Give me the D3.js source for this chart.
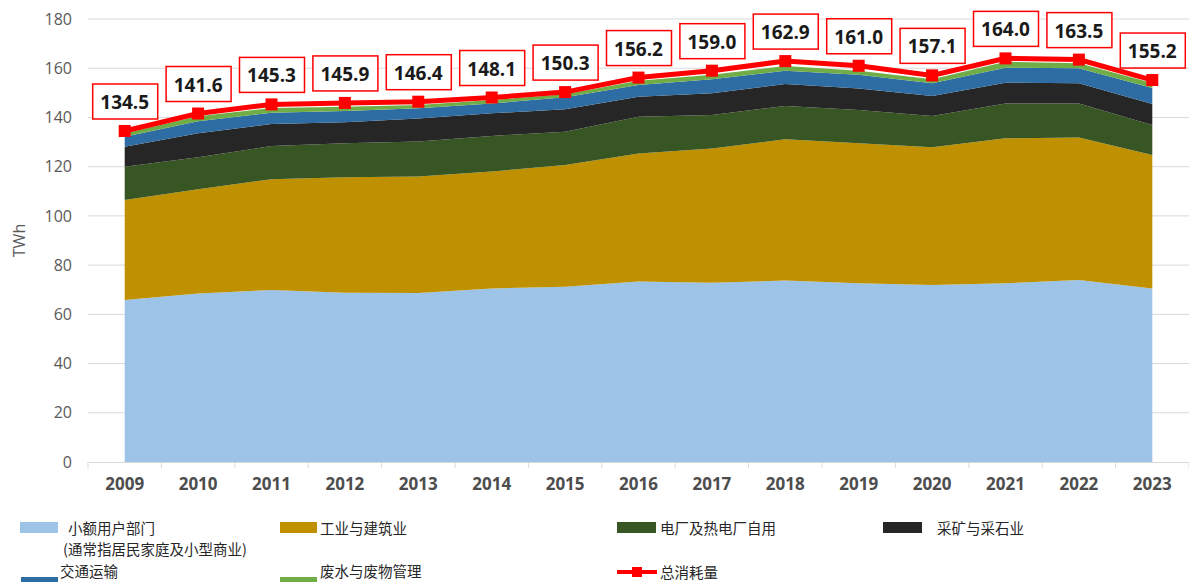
<!DOCTYPE html>
<html>
<head>
<meta charset="utf-8">
<script src="https://cdn.jsdelivr.net/npm/d3@7"></script>
<style>
  body { margin: 0; background: #fff; }
  svg { display: block; font-family: "Noto Sans", "Noto Sans CJK SC", sans-serif; }
</style>
</head>
<body>
<svg id="chart" width="1189" height="582"></svg>
<script>
// years and layer values (TWh)
const years = ["2009","2010","2011","2012","2013","2014","2015","2016","2017","2018","2019","2020","2021","2022","2023"];
const smallUsers = [65.8, 68.5, 69.9, 68.8, 68.7, 70.5, 71.2, 73.3, 72.8, 73.7, 72.6, 71.9, 72.6, 74.0, 70.5];
const industry   = [40.7, 42.3, 45.0, 46.9, 47.3, 47.5, 49.5, 52.1, 54.6, 57.4, 56.9, 56.0, 58.9, 57.9, 54.2];
const powerOwn   = [13.5, 13.0, 13.5, 13.8, 14.2, 14.5, 13.5, 14.9, 13.6, 13.6, 13.5, 12.7, 14.2, 13.8, 12.2];
const mining     = [8.1, 9.8, 8.9, 8.5, 9.4, 9.2, 9.1, 8.1, 8.8, 8.9, 8.8, 8.1, 8.4, 8.2, 8.6];
const transport  = [4.1, 4.9, 4.6, 4.6, 4.1, 4.0, 4.9, 4.8, 5.7, 5.4, 5.5, 5.2, 6.1, 6.1, 6.5];
const waste      = [1.4, 2.0, 1.9, 1.7, 1.4, 1.4, 1.2, 1.7, 1.8, 1.9, 1.7, 1.6, 2.4, 2.0, 2.0];
const total      = [134.5, 141.6, 145.3, 145.9, 146.4, 148.1, 150.3, 156.2, 159.0, 162.9, 161.0, 157.1, 164.0, 163.5, 155.2];
const yTicks = [0, 20, 40, 60, 80, 100, 120, 140, 160, 180];

const keys = ["smallUsers", "industry", "powerOwn", "mining", "transport", "waste"];
const colors = {
  smallUsers: "#9dc3e6",
  industry: "#bf9000",
  powerOwn: "#375623",
  mining: "#262626",
  transport: "#2e6da4",
  waste: "#70ad47"
};

const rows = years.map((yr, i) => ({
  year: yr,
  smallUsers: smallUsers[i], industry: industry[i], powerOwn: powerOwn[i],
  mining: mining[i], transport: transport[i], waste: waste[i], total: total[i]
}));

const svg = d3.select("#chart");
const plotLeft = 88, plotRight = 1189, plotTop = 19, plotBottom = 462;

const x = d3.scaleBand().domain(years).range([plotLeft, plotRight]).padding(0);
const xc = d => x(d) + x.bandwidth() / 2;
const y = d3.scaleLinear().domain([0, 180]).range([plotBottom, plotTop]);

// gridlines
svg.append("g")
  .selectAll("line")
  .data(yTicks.slice(1))
  .enter().append("line")
  .attr("x1", plotLeft).attr("x2", plotRight)
  .attr("y1", d => y(d)).attr("y2", d => y(d))
  .attr("stroke", "#d9d9d9").attr("stroke-width", 1);

// y axis labels
const yAxis = svg.append("g")
  .attr("transform", `translate(${plotLeft},0)`)
  .call(d3.axisLeft(y).tickValues(yTicks).tickSize(0).tickPadding(16));
yAxis.select(".domain").remove();
yAxis.selectAll("text")
  .attr("fill", "#595959")
  .style("font-size", "16px")
  .style("font-family", "'Open Sans', sans-serif");

svg.append("text")
  .attr("transform", `translate(25,${y(90)}) rotate(-90)`)
  .attr("text-anchor", "middle")
  .attr("fill", "#595959")
  .style("font-size", "16px")
  .style("font-family", "'Open Sans', sans-serif")
  .text("TWh");

// stacked areas
const series = d3.stack().keys(keys)(rows);
const area = d3.area()
  .x(d => xc(d.data.year))
  .y0(d => y(d[0]))
  .y1(d => y(d[1]));

svg.append("g")
  .selectAll("path")
  .data(series)
  .enter().append("path")
  .attr("d", area)
  .attr("fill", d => colors[d.key]);

// x axis
const xAxis = svg.append("g")
  .attr("transform", `translate(0,${plotBottom})`)
  .call(d3.axisBottom(x).tickSize(0).tickPadding(16));
xAxis.select(".domain").attr("stroke", "#d9d9d9");
xAxis.selectAll("text")
  .attr("fill", "#4d4d4d")
  .style("font-size", "17px")
  .style("font-weight", "bold")
  .style("font-family", "'Open Sans', sans-serif");
svg.append("g")
  .selectAll("line")
  .data(years.concat(["end"]))
  .enter().append("line")
  .attr("x1", (d, i) => plotLeft + i * x.step())
  .attr("x2", (d, i) => plotLeft + i * x.step())
  .attr("y1", plotBottom).attr("y2", plotBottom + 6)
  .attr("stroke", "#d9d9d9");

// total line
const line = d3.line().x(d => xc(d.year)).y(d => y(d.total));
svg.append("path")
  .datum(rows)
  .attr("d", line)
  .attr("fill", "none")
  .attr("stroke", "#ff0000")
  .attr("stroke-width", 5);

svg.append("g")
  .selectAll("rect")
  .data(rows)
  .enter().append("rect")
  .attr("x", d => xc(d.year) - 6)
  .attr("y", d => y(d.total) - 6)
  .attr("width", 12).attr("height", 12)
  .attr("fill", "#ff0000");

// value labels
const labels = svg.append("g")
  .selectAll("g")
  .data(rows)
  .enter().append("g")
  .attr("transform", d => `translate(${xc(d.year)},${y(d.total) - 12})`);
labels.append("rect")
  .attr("x", -32).attr("y", -35)
  .attr("width", 65).attr("height", 35)
  .attr("fill", "#fff")
  .attr("stroke", "#ff0000")
  .attr("stroke-width", 1.5);
labels.append("text")
  .attr("x", 0).attr("y", -17)
  .attr("text-anchor", "middle")
  .attr("dominant-baseline", "central")
  .attr("fill", "#1a1a1a")
  .style("font-size", "19px")
  .style("font-weight", "bold")
  .style("font-family", "'Open Sans', sans-serif")
  .text(d => d.total.toFixed(1));

// legend
const legendItems = [
  { key: "smallUsers", label: ["小额用户部门", "(通常指居民家庭及小型商业)"], sx: 20, sw: 38, tx: 68, ty: 527, row: 1 },
  { key: "industry", label: ["工业与建筑业"], sx: 280, sw: 37, tx: 320, ty: 527, row: 1 },
  { key: "powerOwn", label: ["电厂及热电厂自用"], sx: 617, sw: 39, tx: 660, ty: 527, row: 1 },
  { key: "mining", label: ["采矿与采石业"], sx: 883, sw: 39, tx: 937, ty: 527, row: 1 },
  { key: "transport", label: ["交通运输"], sx: 21, sw: 37, tx: 60, ty: 570, row: 2 },
  { key: "waste", label: ["废水与废物管理"], sx: 280, sw: 37, tx: 320, ty: 570, row: 2 }
];
const lg = svg.append("g")
  .selectAll("g")
  .data(legendItems)
  .enter().append("g");
lg.append("rect")
  .attr("x", d => d.sx)
  .attr("y", d => d.row === 1 ? 522 : 577)
  .attr("width", d => d.sw)
  .attr("height", d => d.row === 1 ? 11 : 6)
  .attr("fill", d => colors[d.key]);
lg.each(function (d) {
  d.label.forEach((t, i) => {
    d3.select(this).append("text")
      .attr("x", i === 0 ? d.tx : d.tx - 5)
      .attr("y", d.ty + i * 21)
      .attr("dominant-baseline", "central")
      .attr("fill", "#262626")
      .style("font-size", "14.5px")
      .style("font-family", "'Noto Sans CJK SC', sans-serif")
      .text(t);
  });
});

// total legend entry
svg.append("line")
  .attr("x1", 617).attr("x2", 657)
  .attr("y1", 572).attr("y2", 572)
  .attr("stroke", "#ff0000").attr("stroke-width", 4);
svg.append("rect")
  .attr("x", 632).attr("y", 567).attr("width", 10).attr("height", 10)
  .attr("fill", "#ff0000");
svg.append("text")
  .attr("x", 660).attr("y", 571)
  .attr("dominant-baseline", "central")
  .attr("fill", "#262626")
  .style("font-size", "14.5px")
  .style("font-family", "'Noto Sans CJK SC', sans-serif")
  .text("总消耗量");
</script>
</body>
</html>
